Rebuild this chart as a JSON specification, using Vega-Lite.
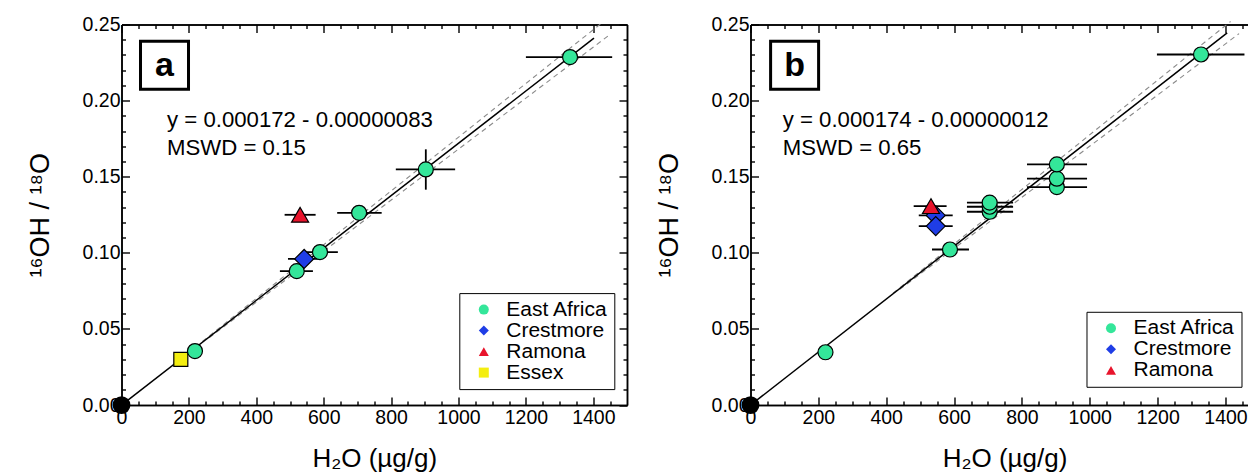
{
  "$schema": "https://vega.github.io/schema/vega-lite/v6.json",
  "background": "white",
  "padding": {"left": 25.5, "top": 14.5, "right": 0, "bottom": 0},
  "config": {
    "font": "Liberation Sans",
    "view": {"stroke": null},
    "axis": {"grid": false, "domainColor": "black", "domainWidth": 1.5, "tickColor": "black", "tickWidth": 1.4,
      "labelFont": "Liberation Sans", "labelFontSize": 19.5, "labelColor": "black",
      "titleFont": "Liberation Sans", "titleFontSize": 26, "titleFontWeight": "normal", "titleColor": "black",
      "labelFlush": false, "labelOverlap": false, "labelBound": false},
    "legend": {"strokeColor": "black", "fillColor": "white", "padding": 6, "labelFont": "Liberation Sans",
      "labelFontSize": 21, "labelColor": "black", "symbolSize": 100, "symbolStrokeColor": "black",
      "symbolStrokeWidth": 1, "rowPadding": -1.5, "labelOffset": 12, "symbolOffset": 8},
    "text": {"font": "Liberation Sans", "color": "black"}
  },
  "datasets": {
    "dashA": [{"side": "u", "x": 240, "y": 0.0418}, {"side": "u", "x": 1425, "y": 0.2510},
              {"side": "l", "x": 260, "y": 0.0442}, {"side": "l", "x": 1450, "y": 0.2435}],
    "lineA": [{"x": 0, "y": 0}, {"x": 1402, "y": 0.2411}],
    "errA": [{"lo": 1200, "hi": 1456, "y": 0.2286}, {"lo": 814, "hi": 990, "y": 0.1548},
             {"lo": 640, "hi": 772, "y": 0.1263}, {"lo": 536, "hi": 642, "y": 0.1005},
             {"lo": 470, "hi": 568, "y": 0.0880}, {"lo": 494, "hi": 590, "y": 0.0960},
             {"lo": 484, "hi": 576, "y": 0.1250}],
    "errAv": [{"x": 903, "lo": 0.1415, "hi": 0.168}],
    "ptsA": [{"g": "Essex", "x": 176, "y": 0.0300}, {"g": "East Africa", "x": 218, "y": 0.0355},
             {"g": "East Africa", "x": 520, "y": 0.0880}, {"g": "Crestmore", "x": 542, "y": 0.0960},
             {"g": "East Africa", "x": 589, "y": 0.1005}, {"g": "Ramona", "x": 530, "y": 0.1250},
             {"g": "East Africa", "x": 705, "y": 0.1263}, {"g": "East Africa", "x": 903, "y": 0.1548},
             {"g": "East Africa", "x": 1331, "y": 0.2286}],
    "origin": [{"x": 0, "y": 0}],
    "boxA": [{"x": 127.6, "y": 0.2233, "t": "a"}],
    "eqA": [{"x": 135, "y": 0.1874, "t": "y = 0.000172 - 0.00000083"}, {"x": 135, "y": 0.1692, "t": "MSWD = 0.15"}],
    "dashB": [{"side": "u", "x": 420, "y": 0.0735}, {"side": "u", "x": 1415, "y": 0.2520},
              {"side": "l", "x": 440, "y": 0.0760}, {"side": "l", "x": 1440, "y": 0.2440}],
    "lineB": [{"x": 0, "y": 0}, {"x": 1405, "y": 0.2445}],
    "errB": [{"lo": 1198, "hi": 1456, "y": 0.2303}, {"lo": 815, "hi": 992, "y": 0.1581},
             {"lo": 815, "hi": 992, "y": 0.1487}, {"lo": 815, "hi": 992, "y": 0.1432},
             {"lo": 638, "hi": 774, "y": 0.1330}, {"lo": 638, "hi": 774, "y": 0.1303},
             {"lo": 638, "hi": 774, "y": 0.1270}, {"lo": 535, "hi": 644, "y": 0.1022},
             {"lo": 496, "hi": 596, "y": 0.1246}, {"lo": 496, "hi": 596, "y": 0.1176},
             {"lo": 481, "hi": 578, "y": 0.1307}],
    "ptsB": [{"g": "East Africa", "x": 221, "y": 0.0347}, {"g": "East Africa", "x": 588, "y": 0.1022},
             {"g": "Crestmore", "x": 546, "y": 0.1246}, {"g": "Crestmore", "x": 546, "y": 0.1176},
             {"g": "Ramona", "x": 532, "y": 0.1307}, {"g": "East Africa", "x": 705, "y": 0.1270},
             {"g": "East Africa", "x": 705, "y": 0.1303}, {"g": "East Africa", "x": 705, "y": 0.1330},
             {"g": "East Africa", "x": 903, "y": 0.1432}, {"g": "East Africa", "x": 903, "y": 0.1487},
             {"g": "East Africa", "x": 903, "y": 0.1581}, {"g": "East Africa", "x": 1328, "y": 0.2303}],
    "boxB": [{"x": 130, "y": 0.2233, "t": "b"}],
    "eqB": [{"x": 95, "y": 0.1871, "t": "y = 0.000174 - 0.00000012"}, {"x": 95, "y": 0.1691, "t": "MSWD = 0.65"}]
  },
  "hconcat": [
    {
      "width": 505.5, "height": 380.6,
      "resolve": {"axis": {"x": "independent", "y": "independent"}},
      "layer": [
        {"data": {"name": "dashA"}, "mark": {"type": "line", "stroke": "#8a8a8a", "strokeWidth": 1.1, "strokeDash": [5, 4]},
         "encoding": {
           "x": {"field": "x", "type": "quantitative", "scale": {"domain": [0, 1500], "nice": false, "zero": false},
                 "axis": {"orient": "bottom", "values": [50,100,150,250,300,350,450,500,550,650,700,750,850,900,950,1050,1100,1150,1250,1300,1350,1450], "tickSize": -4, "labels": false, "title": null}},
           "y": {"field": "y", "type": "quantitative", "scale": {"domain": [0, 0.25], "nice": false, "zero": false},
                 "axis": {"orient": "left", "values": [0.01,0.02,0.03,0.04,0.06,0.07,0.08,0.09,0.11,0.12,0.13,0.14,0.16,0.17,0.18,0.19,0.21,0.22,0.23,0.24], "tickSize": -4, "labels": false, "title": null}},
           "detail": {"field": "side"}}},
        {"data": {"name": "lineA"}, "mark": {"type": "line", "stroke": "black", "strokeWidth": 1.5},
         "encoding": {
           "x": {"field": "x", "type": "quantitative", "scale": {"domain": [0, 1500], "nice": false, "zero": false},
                 "axis": {"orient": "top", "values": [50,100,150,250,300,350,450,500,550,650,700,750,850,900,950,1050,1100,1150,1250,1300,1350,1450], "tickSize": -4, "labels": false, "title": null}},
           "y": {"field": "y", "type": "quantitative", "scale": {"domain": [0, 0.25], "nice": false, "zero": false},
                 "axis": {"orient": "right", "values": [0.01,0.02,0.03,0.04,0.06,0.07,0.08,0.09,0.11,0.12,0.13,0.14,0.16,0.17,0.18,0.19,0.21,0.22,0.23,0.24], "tickSize": -4, "labels": false, "title": null}}}},
        {"data": {"name": "errA"}, "mark": {"type": "rule", "stroke": "black", "strokeWidth": 1.8},
         "encoding": {
           "x": {"field": "lo", "type": "quantitative", "scale": {"domain": [0, 1500], "nice": false, "zero": false},
                 "axis": {"orient": "top", "values": [0,200,400,600,800,1000,1200,1400], "tickSize": -8, "labels": false, "title": null}},
           "x2": {"field": "hi"},
           "y": {"field": "y", "type": "quantitative", "scale": {"domain": [0, 0.25], "nice": false, "zero": false},
                 "axis": {"orient": "right", "values": [0,0.05,0.1,0.15,0.2,0.25], "tickSize": -8, "labels": false, "title": null}}}},
        {"data": {"name": "errAv"}, "mark": {"type": "rule", "stroke": "black", "strokeWidth": 1.8},
         "encoding": {
           "x": {"field": "x", "type": "quantitative", "scale": {"domain": [0, 1500], "nice": false, "zero": false}, "axis": null},
           "y": {"field": "lo", "type": "quantitative", "scale": {"domain": [0, 0.25], "nice": false, "zero": false}, "axis": null},
           "y2": {"field": "hi"}}},
        {"data": {"name": "ptsA"}, "mark": {"type": "point", "filled": true, "stroke": "black", "strokeWidth": 1.2, "opacity": 1},
         "encoding": {
           "x": {"field": "x", "type": "quantitative", "scale": {"domain": [0, 1500], "nice": false, "zero": false},
                 "axis": {"orient": "bottom", "values": [0,200,400,600,800,1000,1200,1400], "tickSize": -8, "labelPadding": 11, "format": "d", "title": "H₂O (µg/g)", "titlePadding": 19}},
           "y": {"field": "y", "type": "quantitative", "scale": {"domain": [0, 0.25], "nice": false, "zero": false},
                 "axis": {"orient": "left", "values": [0,0.05,0.1,0.15,0.2,0.25], "tickSize": -8, "labelPadding": 9.5, "format": ".2f", "title": "¹⁶OH / ¹⁸O", "titleFontSize": 27, "titlePadding": 28}},
           "fill": {"field": "g", "type": "nominal",
                    "scale": {"domain": ["East Africa", "Crestmore", "Ramona", "Essex"], "range": ["#34e69a", "#1f3de6", "#e8142c", "#f4ee10"]},
                    "legend": {"title": null, "orient": "none", "legendX": 337.8, "legendY": 268.6,
                               "encode": {"symbols": {"stroke": {"value": "black"}, "strokeWidth": {"value": 1}}}}},
           "shape": {"field": "g", "type": "nominal",
                     "scale": {"domain": ["East Africa", "Crestmore", "Ramona", "Essex"], "range": ["circle", "diamond", "triangle-up", "square"]},
                     "legend": {"title": null, "orient": "none", "legendX": 337.8, "legendY": 268.6,
                                "encode": {"symbols": {"stroke": {"value": "black"}, "strokeWidth": {"value": 1}}}}},
           "size": {"condition": [{"test": "datum.g === 'Crestmore'", "value": 360}, {"test": "datum.g === 'Ramona'", "value": 290}, {"test": "datum.g === 'Essex'", "value": 196}], "value": 225}}},
        {"data": {"name": "origin"}, "mark": {"type": "point", "shape": "circle", "filled": true, "fill": "black", "stroke": "black", "size": 250, "opacity": 1},
         "encoding": {
           "x": {"field": "x", "type": "quantitative", "scale": {"domain": [0, 1500], "nice": false, "zero": false}, "axis": null},
           "y": {"field": "y", "type": "quantitative", "scale": {"domain": [0, 0.25], "nice": false, "zero": false}, "axis": null}}},
        {"data": {"name": "boxA"}, "mark": {"type": "point", "shape": "square", "filled": true, "fill": "white", "stroke": "black", "strokeWidth": 3, "size": 2304, "opacity": 1},
         "encoding": {
           "x": {"field": "x", "type": "quantitative", "scale": {"domain": [0, 1500], "nice": false, "zero": false}, "axis": null},
           "y": {"field": "y", "type": "quantitative", "scale": {"domain": [0, 0.25], "nice": false, "zero": false}, "axis": null}}},
        {"data": {"name": "boxA"}, "mark": {"type": "text", "fontSize": 34, "fontWeight": "bold", "align": "center", "baseline": "middle", "dy": 1},
         "encoding": {
           "x": {"field": "x", "type": "quantitative", "scale": {"domain": [0, 1500], "nice": false, "zero": false}, "axis": null},
           "y": {"field": "y", "type": "quantitative", "scale": {"domain": [0, 0.25], "nice": false, "zero": false}, "axis": null},
           "text": {"field": "t"}}},
        {"data": {"name": "eqA"}, "mark": {"type": "text", "fontSize": 22.2, "align": "left", "baseline": "middle"},
         "encoding": {
           "x": {"field": "x", "type": "quantitative", "scale": {"domain": [0, 1500], "nice": false, "zero": false}, "axis": null},
           "y": {"field": "y", "type": "quantitative", "scale": {"domain": [0, 0.25], "nice": false, "zero": false}, "axis": null},
           "text": {"field": "t"}}}
      ]
    },
    {
      "width": 497.7, "height": 380.6,
      "resolve": {"axis": {"x": "independent", "y": "independent"}},
      "layer": [
        {"data": {"name": "dashB"}, "mark": {"type": "line", "stroke": "#8a8a8a", "strokeWidth": 1.1, "strokeDash": [5, 4]},
         "encoding": {
           "x": {"field": "x", "type": "quantitative", "scale": {"domain": [0, 1467], "nice": false, "zero": false},
                 "axis": {"orient": "bottom", "values": [50,100,150,250,300,350,450,500,550,650,700,750,850,900,950,1050,1100,1150,1250,1300,1350,1450], "tickSize": -4, "labels": false, "title": null}},
           "y": {"field": "y", "type": "quantitative", "scale": {"domain": [0, 0.25], "nice": false, "zero": false},
                 "axis": {"orient": "left", "values": [0.01,0.02,0.03,0.04,0.06,0.07,0.08,0.09,0.11,0.12,0.13,0.14,0.16,0.17,0.18,0.19,0.21,0.22,0.23,0.24], "tickSize": -4, "labels": false, "title": null}},
           "detail": {"field": "side"}}},
        {"data": {"name": "lineB"}, "mark": {"type": "line", "stroke": "black", "strokeWidth": 1.5},
         "encoding": {
           "x": {"field": "x", "type": "quantitative", "scale": {"domain": [0, 1467], "nice": false, "zero": false},
                 "axis": {"orient": "top", "values": [50,100,150,250,300,350,450,500,550,650,700,750,850,900,950,1050,1100,1150,1250,1300,1350,1450], "tickSize": -4, "labels": false, "title": null}},
           "y": {"field": "y", "type": "quantitative", "scale": {"domain": [0, 0.25], "nice": false, "zero": false}, "axis": null}}},
        {"data": {"name": "errB"}, "mark": {"type": "rule", "stroke": "black", "strokeWidth": 1.8},
         "encoding": {
           "x": {"field": "lo", "type": "quantitative", "scale": {"domain": [0, 1467], "nice": false, "zero": false},
                 "axis": {"orient": "top", "values": [0,200,400,600,800,1000,1200,1400], "tickSize": -8, "labels": false, "title": null}},
           "x2": {"field": "hi"},
           "y": {"field": "y", "type": "quantitative", "scale": {"domain": [0, 0.25], "nice": false, "zero": false}, "axis": null}}},
        {"data": {"name": "ptsB"}, "mark": {"type": "point", "filled": true, "stroke": "black", "strokeWidth": 1.2, "opacity": 1},
         "encoding": {
           "x": {"field": "x", "type": "quantitative", "scale": {"domain": [0, 1467], "nice": false, "zero": false},
                 "axis": {"orient": "bottom", "values": [0,200,400,600,800,1000,1200,1400], "tickSize": -8, "labelPadding": 11, "format": "d", "title": "H₂O (µg/g)", "titlePadding": 19, "titleX": 254}},
           "y": {"field": "y", "type": "quantitative", "scale": {"domain": [0, 0.25], "nice": false, "zero": false},
                 "axis": {"orient": "left", "values": [0,0.05,0.1,0.15,0.2,0.25], "tickSize": -8, "labelPadding": 9.5, "format": ".2f", "title": "¹⁶OH / ¹⁸O", "titleFontSize": 27, "titlePadding": 28}},
           "fill": {"field": "g", "type": "nominal",
                    "scale": {"domain": ["East Africa", "Crestmore", "Ramona"], "range": ["#34e69a", "#1f3de6", "#e8142c"]},
                    "legend": {"title": null, "orient": "none", "legendX": 336, "legendY": 287.3,
                               "encode": {"symbols": {"stroke": {"value": "black"}, "strokeWidth": {"value": 1}}}}},
           "shape": {"field": "g", "type": "nominal",
                     "scale": {"domain": ["East Africa", "Crestmore", "Ramona"], "range": ["circle", "diamond", "triangle-up"]},
                     "legend": {"title": null, "orient": "none", "legendX": 336, "legendY": 287.3,
                                "encode": {"symbols": {"stroke": {"value": "black"}, "strokeWidth": {"value": 1}}}}},
           "size": {"condition": [{"test": "datum.g === 'Crestmore'", "value": 360}, {"test": "datum.g === 'Ramona'", "value": 290}], "value": 225}}},
        {"data": {"name": "origin"}, "mark": {"type": "point", "shape": "circle", "filled": true, "fill": "black", "stroke": "black", "size": 250, "opacity": 1},
         "encoding": {
           "x": {"field": "x", "type": "quantitative", "scale": {"domain": [0, 1467], "nice": false, "zero": false}, "axis": null},
           "y": {"field": "y", "type": "quantitative", "scale": {"domain": [0, 0.25], "nice": false, "zero": false}, "axis": null}}},
        {"data": {"name": "boxB"}, "mark": {"type": "point", "shape": "square", "filled": true, "fill": "white", "stroke": "black", "strokeWidth": 3, "size": 2304, "opacity": 1},
         "encoding": {
           "x": {"field": "x", "type": "quantitative", "scale": {"domain": [0, 1467], "nice": false, "zero": false}, "axis": null},
           "y": {"field": "y", "type": "quantitative", "scale": {"domain": [0, 0.25], "nice": false, "zero": false}, "axis": null}}},
        {"data": {"name": "boxB"}, "mark": {"type": "text", "fontSize": 34, "fontWeight": "bold", "align": "center", "baseline": "middle", "dy": 1},
         "encoding": {
           "x": {"field": "x", "type": "quantitative", "scale": {"domain": [0, 1467], "nice": false, "zero": false}, "axis": null},
           "y": {"field": "y", "type": "quantitative", "scale": {"domain": [0, 0.25], "nice": false, "zero": false}, "axis": null},
           "text": {"field": "t"}}},
        {"data": {"name": "eqB"}, "mark": {"type": "text", "fontSize": 22.2, "align": "left", "baseline": "middle"},
         "encoding": {
           "x": {"field": "x", "type": "quantitative", "scale": {"domain": [0, 1467], "nice": false, "zero": false}, "axis": null},
           "y": {"field": "y", "type": "quantitative", "scale": {"domain": [0, 0.25], "nice": false, "zero": false}, "axis": null},
           "text": {"field": "t"}}}
      ]
    }
  ],
  "spacing": 123,
  "bounds": "flush",
  "resolve": {
    "scale": {"x": "independent", "y": "independent", "fill": "independent", "shape": "independent"},
    "legend": {"fill": "independent", "shape": "independent"}
  }
}
